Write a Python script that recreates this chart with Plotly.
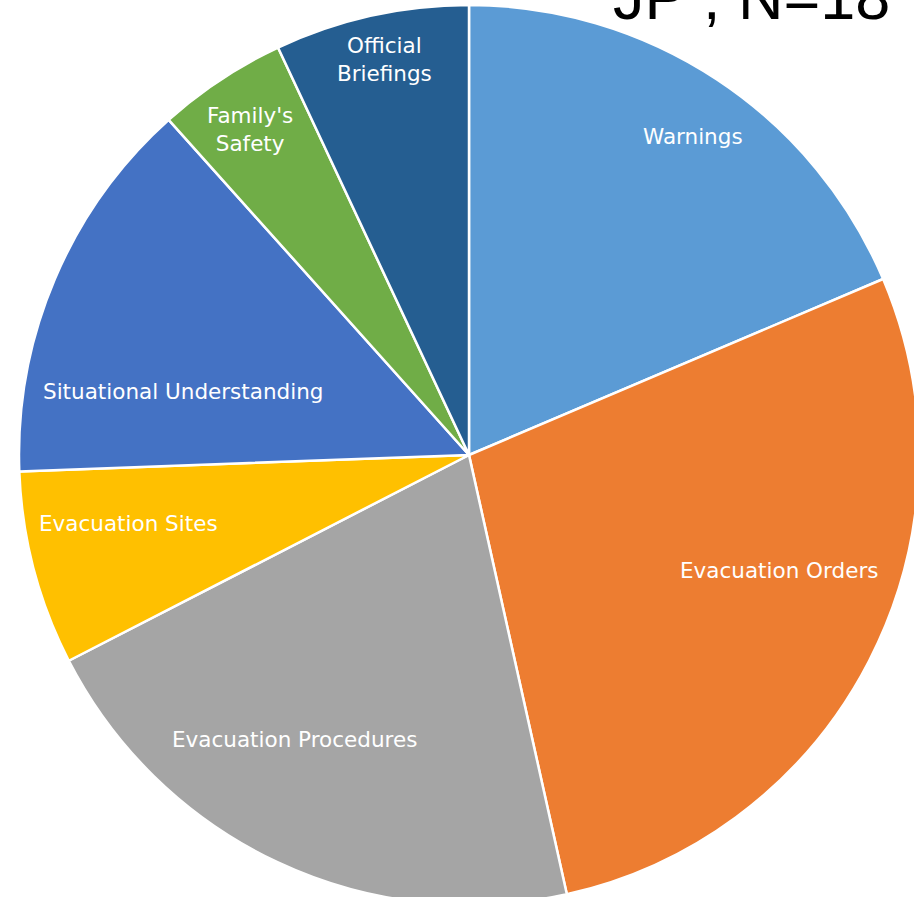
import math
import plotly.graph_objects as go

# Topics mentioned by respondents (JP, N=18)
topics = ["Warnings", "Evacuation Orders", "Evacuation Procedures", "Evacuation Sites",
          "Situational Understanding", "Family's Safety", "Official Briefings"]
mentions = [8, 12, 9, 3, 6, 2, 3]
label_text = ["Warnings", "Evacuation Orders", "Evacuation Procedures", "Evacuation Sites",
              "Situational Understanding", "Family's<br>Safety", "Official<br>Briefings"]
colors = ["#5B9BD5", "#ED7D31", "#A5A5A5", "#FFC000", "#4472C4", "#70AD47", "#255E91"]
title_text = "JP , N=18"

# Figure canvas is a bit larger than the viewport so the pie can run off the edges
W, H = 940, 920
R = 450                      # pie radius in px
CX, CY = 469, 455            # pie centre in px from top-left

dom_x = [(CX - R) / W, (CX + R) / W]
dom_y = [(H - (CY + R)) / H, (H - (CY - R)) / H]

fig = go.Figure(go.Pie(
    labels=topics,
    values=mentions,
    sort=False,
    direction="clockwise",
    rotation=0,
    marker=dict(colors=colors, line=dict(color="white", width=2.5)),
    textinfo="none",
    hoverinfo="label+value+percent",
    showlegend=False,
    domain=dict(x=dom_x, y=dom_y),
))

# Label placement inside each slice: (radius fraction, angular nudge in degrees)
label_place = [(0.866, 1.6), (0.735, -6.85), (0.742, 6.3), (0.773, 3.26),
               (0.651, -10.6), (0.871, -0.47), (0.898, 0.46)]

total = sum(mentions)
cum = 0
annotations = []
for txt, v, (rf, nudge) in zip(label_text, mentions, label_place):
    mid = (cum + v / 2) / total * 360 + nudge
    cum += v
    a = math.radians(mid)
    px = CX + rf * R * math.sin(a)
    py = CY - rf * R * math.cos(a)
    annotations.append(dict(
        x=px / W, y=1 - py / H, xref="paper", yref="paper",
        text=txt, showarrow=False, xanchor="center", yanchor="middle",
        font=dict(family="DejaVu Sans", size=21.5, color="white"),
    ))

annotations.append(dict(
    x=892 / W, y=1 - 34 / H, xref="paper", yref="paper",
    text=title_text, showarrow=False, xanchor="right", yanchor="bottom",
    font=dict(family="Liberation Sans, Arial", size=63, color="black"),
))

fig.update_layout(
    width=W, height=H,
    margin=dict(l=0, r=0, t=0, b=0),
    paper_bgcolor="white",
    plot_bgcolor="white",
    annotations=annotations,
)

fig.write_html(
    "out.html",
    post_script="document.body.style.margin='0';document.body.style.overflow='hidden';",
)
